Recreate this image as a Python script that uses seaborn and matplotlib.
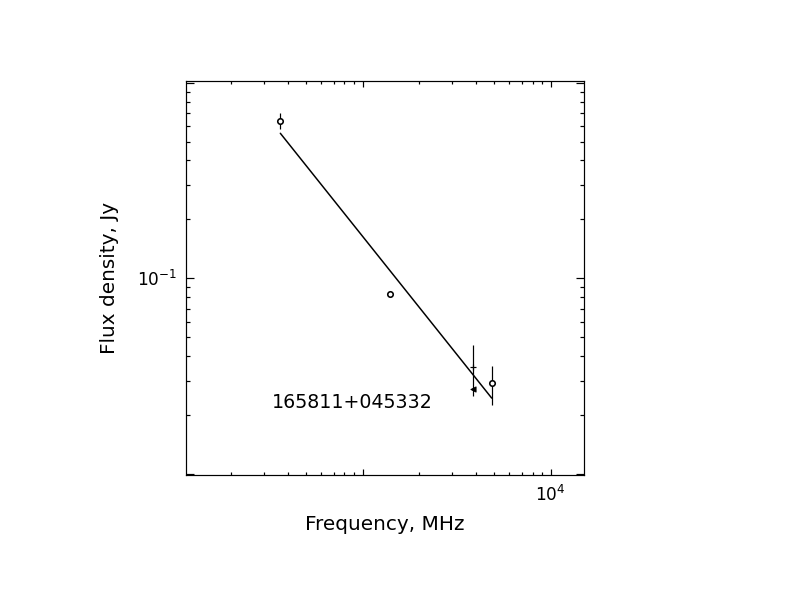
import numpy as np
import pandas as pd
import seaborn as sns
import matplotlib
matplotlib.use('Agg')
import matplotlib.pyplot as plt
from matplotlib.ticker import FixedLocator, FixedFormatter, NullFormatter

# measured points (MHz, Jy)
freq = [365, 1400, 3870, 4850]
flux = [0.637, 0.0828, 0.0353, 0.0290]
flux_err = [0.06, 0.0, 0.0104, 0.0065]
marker = ['o', 'o', '+', 'o']

# extra point (filled triangle)
tri_freq = [3870]
tri_flux = [0.0271]

# power-law fit endpoints
fit_freq = [365, 4850]
fit_flux = [0.551, 0.0244]

source_name = '165811+045332'

sns.set_style('ticks')
plt.rcParams['font.family'] = ['DejaVu Sans']
plt.rcParams['mathtext.fontset'] = 'dejavusans'

fig = plt.figure(figsize=(11, 8.5), dpi=72)
ax = fig.add_axes([0.2348, 0.2239, 0.5025, 0.6438])

pts = pd.DataFrame({'freq': freq, 'flux': flux, 'err': flux_err, 'm': marker})
fit = pd.DataFrame({'freq': fit_freq, 'flux': fit_flux})

sns.lineplot(data=fit, x='freq', y='flux', color='black', linewidth=1.5, ax=ax)

ax.errorbar(pts['freq'], pts['flux'], yerr=pts['err'], fmt='none',
            ecolor='black', elinewidth=1.2, capsize=0)

circ = pts[pts['m'] == 'o']
sns.scatterplot(data=circ, x='freq', y='flux', marker='o', s=30,
                facecolor='white', edgecolor='black', linewidth=1.6, ax=ax, zorder=3)
plus = pts[pts['m'] == '+']
ax.scatter(plus['freq'], plus['flux'], marker='+', s=34, color='black',
           linewidths=1.2, zorder=3)
ax.scatter(tri_freq, tri_flux, marker='<', s=26, color='black', zorder=3)

ax.set_xscale('log')
ax.set_yscale('log')
ax.set_xlim(115, 15000)
ax.set_ylim(0.00987, 1.02)

ax.xaxis.set_major_locator(FixedLocator([100, 1000, 10000]))
ax.xaxis.set_major_formatter(FixedFormatter(['', '', r'$10^{4}$']))
ax.xaxis.set_minor_locator(FixedLocator([m * d for d in [100, 1000, 10000] for m in range(2, 10)]))
ax.xaxis.set_minor_formatter(NullFormatter())
ax.yaxis.set_major_locator(FixedLocator([0.01, 0.1, 1]))
ax.yaxis.set_major_formatter(FixedFormatter(['', r'$10^{-1}$', '']))
ax.yaxis.set_minor_locator(FixedLocator([m * d for d in [0.01, 0.1] for m in range(2, 10)]))
ax.yaxis.set_minor_formatter(NullFormatter())

ax.tick_params(which='both', direction='in', top=True, right=True,
               color='black', width=1.2, labelsize=17, labelcolor='black')
ax.tick_params(axis='x', which='major', length=6, pad=10)
ax.tick_params(axis='x', which='minor', length=3)
ax.tick_params(axis='y', which='major', length=8, pad=9)
ax.tick_params(axis='y', which='minor', length=4)
for s in ax.spines.values():
    s.set_linewidth(1.2)
    s.set_color('black')

ax.set_xlabel('Frequency, MHz', fontsize=20, labelpad=10, color='black')
ax.set_ylabel('Flux density, Jy', fontsize=20, labelpad=18, color='black')
ax.text(877, 0.0233, source_name, fontsize=19, ha='center', va='center',
        color='black')

fig.savefig('out.png', dpi=72)
